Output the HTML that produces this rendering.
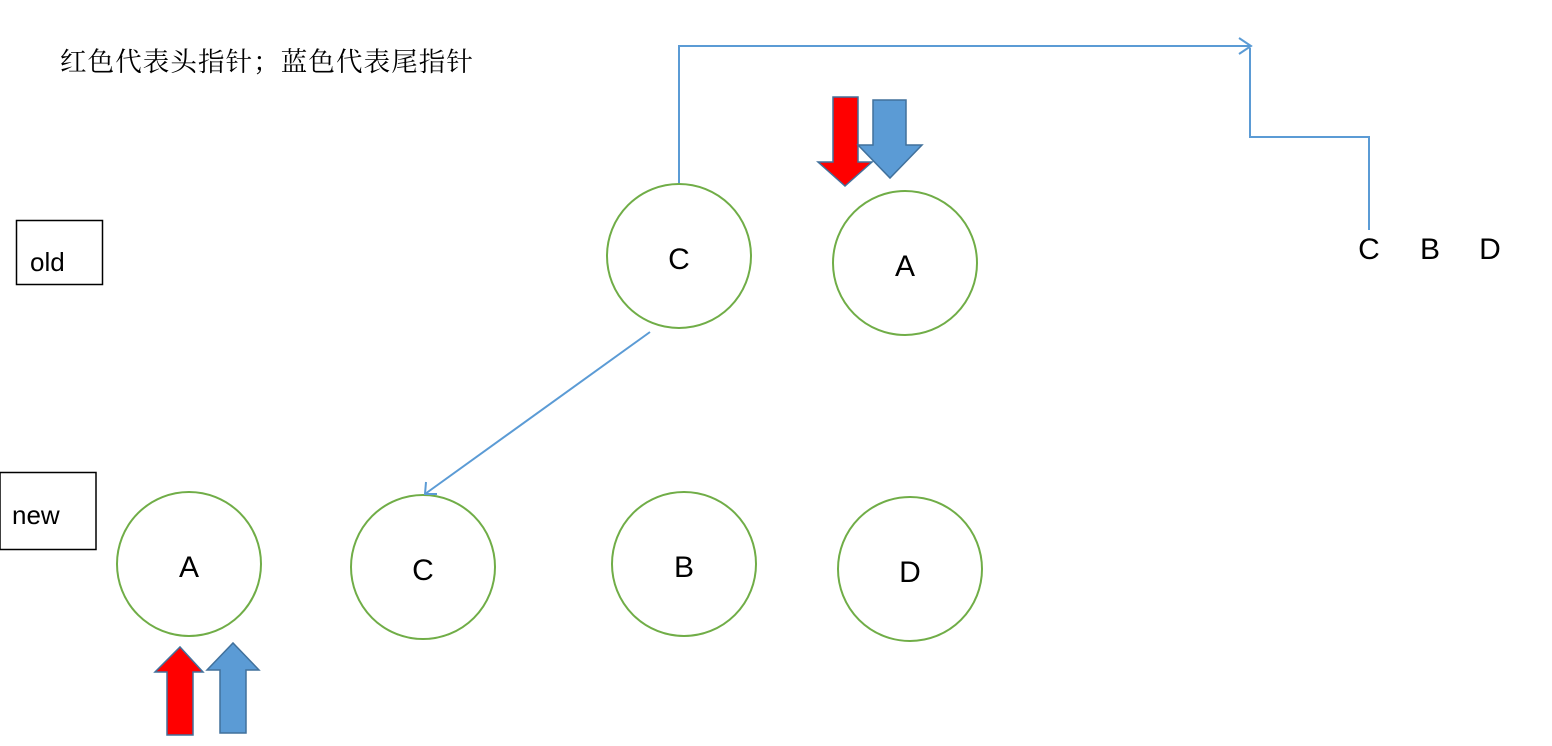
<!DOCTYPE html>
<html><head><meta charset="utf-8"><style>
html,body{margin:0;padding:0;background:#fff;}
body{width:1552px;height:746px;position:relative;overflow:hidden;}
svg{position:absolute;left:0;top:0;}
</style></head><body>
<svg width="1552" height="746" viewBox="0 0 1552 746" xmlns="http://www.w3.org/2000/svg">
<text x="60" y="71" font-family="'Noto Serif CJK SC','Noto Sans CJK SC',serif" font-size="26.5" letter-spacing="1.1" fill="#000">红色代表头指针；蓝色代表尾指针</text>
<rect x="16.5" y="220.5" width="86" height="64" fill="none" stroke="#000" stroke-width="1.5"/>
<text x="30" y="271" font-family="'Liberation Sans',sans-serif" font-size="26" fill="#000">old</text>
<rect x="0" y="472.5" width="96" height="77" fill="none" stroke="#000" stroke-width="1.5"/>
<text x="12" y="524" font-family="'Liberation Sans',sans-serif" font-size="26" fill="#000">new</text>
<g fill="none" stroke="#70ad47" stroke-width="2">
<circle cx="679" cy="256" r="72"/>
<circle cx="905" cy="263" r="72"/>
<circle cx="189" cy="564" r="72"/>
<circle cx="423" cy="567" r="72"/>
<circle cx="684" cy="564" r="72"/>
<circle cx="910" cy="569" r="72"/>
</g>
<g font-family="'Liberation Sans',sans-serif" font-size="30" fill="#000" text-anchor="middle">
<text x="679" y="269">C</text>
<text x="905" y="276">A</text>
<text x="189" y="577">A</text>
<text x="423" y="580">C</text>
<text x="684" y="577">B</text>
<text x="910" y="582">D</text>
<text x="1369" y="259">C</text>
<text x="1430" y="259">B</text>
<text x="1490" y="259">D</text>
</g>
<g fill="none" stroke="#5b9bd5" stroke-width="2">
<polyline points="679,183 679,46 1251,46"/>
<polyline points="1239,38 1251,46 1239,54"/>
<polyline points="1250,48 1250,137 1369,137 1369,230"/>
<line x1="650" y1="332" x2="425" y2="494"/>
<polyline points="426,482 425,494 437,494"/>
</g>
<polygon points="833,97 858,97 858,162 872,162 845,186 818,162 833,162" fill="#ff0000" stroke="#41719c" stroke-width="1.5"/>
<polygon points="873,100 906,100 906,145 922,145 890,178 858,145 873,145" fill="#5b9bd5" stroke="#41719c" stroke-width="1.5"/>
<polygon points="167,735 193,735 193,672 203,672 180,647 155,672 167,672" fill="#ff0000" stroke="#41719c" stroke-width="1.5"/>
<polygon points="220,733 246,733 246,670 259,670 233,643 207,670 220,670" fill="#5b9bd5" stroke="#41719c" stroke-width="1.5"/>
</svg>
</body></html>
